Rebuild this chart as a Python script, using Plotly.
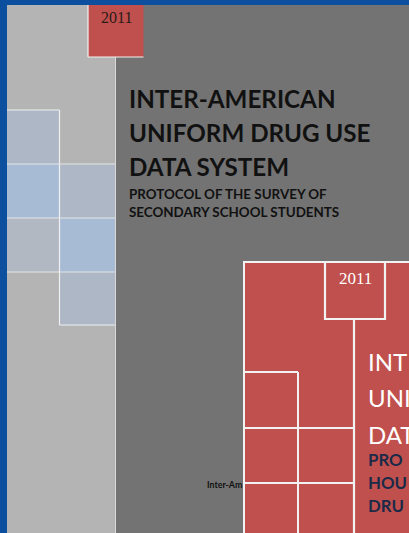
import plotly.graph_objects as go

# ---- text content ----
year_label = "2011"
main_title = ["INTER-AMERICAN", "UNIFORM DRUG USE", "DATA SYSTEM"]
main_subtitle = ["PROTOCOL OF THE SURVEY OF", "SECONDARY SCHOOL STUDENTS"]
back_title = ["INT", "UNI", "DAT"]          # visible (cropped) part of the back cover title
back_subtitle = ["PRO", "HOU", "DRU"]
footer_label = "Inter-Am"

W, H = 409, 533
BLUE = "#0c4f9f"
DARK = "#737373"
LIGHT = "#b4b4b4"
RED = "#c0504d"
TILE_BLUE = "#a8bbd5"
TILE_GREY = "#adb7c5"
NAVY = "#1b2a48"

fig = go.Figure()
# invisible trace to establish axes
fig.add_trace(go.Scatter(x=[0, W], y=[0, H], mode="markers",
                         marker=dict(opacity=0), hoverinfo="skip", showlegend=False))

shapes = []
def rect(x0, y0, x1, y1, fill, line_color=None, lw=0, layer="above"):
    shapes.append(dict(type="rect", xref="x", yref="y", x0=x0, y0=y0, x1=x1, y1=y1,
                       fillcolor=fill, layer=layer,
                       line=dict(color=line_color or fill, width=lw)))
def line(x0, y0, x1, y1, color="#f2f2f2", lw=1.5):
    shapes.append(dict(type="line", xref="x", yref="y", x0=x0, y0=y0, x1=x1, y1=y1,
                       layer="above", line=dict(color=color, width=lw)))

# left light textured panel
rect(7, 0, 115, H, LIGHT)
line(115.5, 57, 115.5, H, "#d8d8d8", 1)
# tiles (col, row)
x_cols = [7, 59.5]
y_rows = [110, 164, 218, 272]
tiles = {(0, 0): TILE_GREY, (0, 1): TILE_BLUE, (1, 1): TILE_GREY,
         (0, 2): "#b1b8c2", (1, 2): TILE_BLUE, (1, 3): TILE_GREY}
for (c, r), col in tiles.items():
    x0 = x_cols[c]
    x1 = x0 + (52.5 if c == 0 else 55.5)
    rect(x0, y_rows[r], x1, y_rows[r] + 54, col)
line(7, 110, 59.5, 110, "#f0f0f0", 1.2)
line(59.5, 110, 59.5, 325, "#f0f0f0", 1.2)
for yy in [164, 218, 272]:
    line(7, yy, 115, yy, "#e6e6e6", 1.2)
line(59.5, 325, 115, 325, "#f0f0f0", 1.2)

# top blue border and left blue border
rect(0, 0, W, 5, BLUE)
rect(0, 0, 7, H, BLUE)

# top year box
rect(88, 5, 143.5, 57, RED)
line(88, 5, 88, 57, "#f2f2f2", 1.2)
line(88, 57, 143.5, 57, "#f2f2f2", 1.2)

# back cover red block
rect(244, 262, W + 5, H + 5, RED, "#f2f2f2", 2)
rect(325, 262, 385, 319, RED, "#f2f2f2", 2.2)
line(354, 319, 354, H + 5, "#f2f2f2", 2.2)
line(244, 372, 298, 372, "#f2f2f2", 2)
line(298, 372, 298, H + 5, "#f2f2f2", 2)
line(244, 428, 354, 428, "#f2f2f2", 2)
line(244, 483, 354, 483, "#f2f2f2", 2)

annotations = []
def txt(x, y, text, size, color, family, xanchor="left", bold=False):
    annotations.append(dict(x=x, y=y, xref="x", yref="y", text=(f"<b>{text}</b>" if bold else text),
                            showarrow=False, xanchor=xanchor, yanchor="middle",
                            font=dict(size=size, color=color, family=family)))

txt(116, 17, year_label, 16, "#2b1a1a", "Liberation Serif", "center")
for i, t in enumerate(main_title):
    txt(127, 98 + i * 34, t, 24.2, "#111111", "Lato", bold=True)
for i, t in enumerate(main_subtitle):
    txt(127, 194 + i * 18, t, 13.4, "#111111", "Lato", bold=True)

txt(355, 278, year_label, 17, "white", "Liberation Serif", "center")
for i, t in enumerate(back_title):
    txt(366, 361 + i * 36.5, t, 24, "white", "Lato")
for i, t in enumerate(back_subtitle):
    txt(366, 459 + i * 23, t, 16.8, NAVY, "Lato", bold=True)
txt(244, 484, footer_label, 8.8, "#111111", "Lato", "right", bold=True)

fig.update_layout(
    width=W, height=H, margin=dict(l=0, r=0, t=0, b=0),
    paper_bgcolor=DARK, plot_bgcolor=DARK,
    xaxis=dict(range=[0, W], visible=False, fixedrange=True),
    yaxis=dict(range=[H, 0], visible=False, fixedrange=True),
    shapes=shapes, annotations=annotations, showlegend=False,
)
fig.write_html("out.html", config={"displayModeBar": False},
               post_script="document.body.style.margin='0';document.body.style.overflow='hidden';")
